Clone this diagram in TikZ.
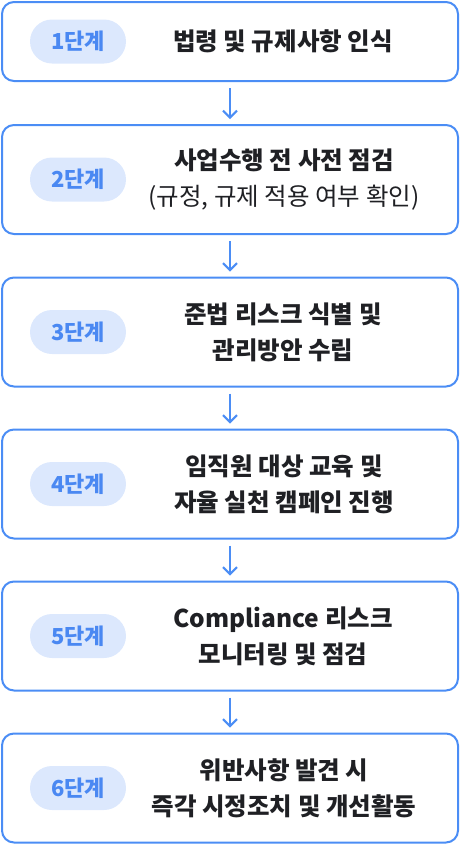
\documentclass[tikz,border=0pt]{standalone}
\usepackage{fontspec}
\newfontfamily\kr{Noto Sans CJK KR}
\usetikzlibrary{arrows.meta}
\definecolor{lineblue}{HTML}{4B8DF5}
\definecolor{badgefill}{HTML}{DCE8FD}
\definecolor{badgetext}{HTML}{4A88F2}
\definecolor{inkdark}{HTML}{1F2024}

\tikzset{
  stagebox/.style={draw=lineblue, line width=2pt, rounded corners=12pt,
    minimum width=456pt, minimum height=109pt, inner sep=0pt},
  badge/.style={fill=badgefill, text=badgetext, rounded corners=22pt,
    minimum width=96pt, minimum height=44pt, inner sep=0pt,
    font=\kr\bfseries\fontsize{22}{24}\selectfont},
  desc/.style={text=inkdark, align=center, inner sep=0pt,
    font=\kr\bfseries\fontsize{24.5}{36}\selectfont},
  flow/.style={draw=lineblue, line width=2pt, -{Straight Barb[length=7pt,width=14pt]}}
}

\begin{document}
\begin{tikzpicture}[x=1pt,y=-1pt]
  \useasboundingbox (0,0) rectangle (460,844);
  % boxes
  \node[stagebox, minimum height=79pt] (stage1) at (230,41.5) {};
  \node[stagebox] (stage2) at (230,179.5) {};
  \node[stagebox] (stage3) at (230,332) {};
  \node[stagebox] (stage4) at (230,484) {};
  \node[stagebox] (stage5) at (230,636) {};
  \node[stagebox] (stage6) at (230,788) {};
  % badges
  \node[badge] (badge1) at (78,41.5) {1단계};
  \node[badge] (badge2) at (78,179.5) {2단계};
  \node[badge] (badge3) at (78,332) {3단계};
  \node[badge] (badge4) at (78,484) {4단계};
  \node[badge] (badge5) at (78,636) {5단계};
  \node[badge] (badge6) at (78,788) {6단계};
  % texts
  \node[desc] (desc1) at (283,41.5) {법령 및 규제사항 인식};
  \node[desc] (desc2) at (284,180) {사업수행 전 사전 점검\\{\mdseries (규정, 규제 적용 여부 확인)}};
  \node[desc] (desc3) at (283,332) {준법 리스크 식별 및\\관리방안 수립};
  \node[desc] (desc4) at (284,484) {임직원 대상 교육 및\\자율 실천 캠페인 진행};
  \node[desc] (desc5) at (283,636) {Compliance 리스크\\모니터링 및 점검};
  \node[desc] (desc6) at (284,788) {위반사항 발견 시\\즉각 시정조치 및 개선활동};
  % arrows
  \foreach \a/\b in {1/2,2/3,3/4,4/5,5/6}
    \draw[flow] ([yshift=-6pt]stage\a.south) -- ([yshift=5pt]stage\b.north);
\end{tikzpicture}
\end{document}
